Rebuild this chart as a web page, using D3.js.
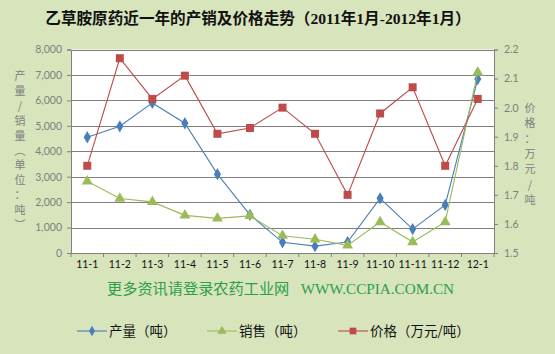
<!DOCTYPE html>
<html>
<head>
  <meta charset="utf-8">
  <title>乙草胺原药产销及价格走势</title>
  <style>
    body { margin: 0; background: #d8e4bc; }
    svg { display: block; }
  </style>
</head>
<body>
  <svg width="555" height="354"></svg>

  <script src="https://d3js.org/d3.v7.min.js"></script>
  <script>
    const months = ["11-1", "11-2", "11-3", "11-4", "11-5", "11-6", "11-7", "11-8", "11-9", "11-10", "11-11", "11-12", "12-1"];
    const output = [4550, 4980, 5900, 5100, 3100, 1500, 420, 270, 430, 2150, 940, 1890, 6840];
    const sales = [2820, 2140, 2010, 1480, 1360, 1460, 680, 540, 300, 1220, 430, 1220, 7100];
    const price = [1.80, 2.17, 2.03, 2.11, 1.91, 1.93, 2.00, 1.91, 1.70, 1.98, 2.07, 1.80, 2.03];
    const leftTicks = [0, 1000, 2000, 3000, 4000, 5000, 6000, 7000, 8000];
    const rightTicks = [1.5, 1.6, 1.7, 1.8, 1.9, 2.0, 2.1, 2.2];

    const width = 555, height = 354;
    const plot = { left: 71, right: 494, top: 49.5, bottom: 253 };
    const gridColor = "#808080";
    const labelColor = "#7f7f7f";
    const tickFont = "Lato, 'Noto Sans', sans-serif";
    const cjkFont = "'Noto Sans CJK SC', sans-serif";

    const svg = d3.select("svg");

    const x = d3.scaleBand().domain(months).range([plot.left, plot.right]);
    const yLeft = d3.scaleLinear().domain([0, 8000]).range([plot.bottom, plot.top]);
    const yRight = d3.scaleLinear().domain([1.5, 2.2]).range([plot.bottom, plot.top]);

    // title
    svg.append("text")
      .attr("x", 258).attr("y", 24)
      .attr("text-anchor", "middle")
      .attr("font-family", "'Liberation Serif', 'Noto Sans CJK SC', serif")
      .attr("font-weight", "bold")
      .attr("font-size", 15.6)
      .attr("fill", "#111")
      .text("乙草胺原药近一年的产销及价格走势（2011年1月-2012年1月）");

    // plot area
    svg.append("rect")
      .attr("x", plot.left).attr("y", plot.top)
      .attr("width", plot.right - plot.left).attr("height", plot.bottom - plot.top)
      .attr("fill", "white");

    // gridlines
    svg.append("g").selectAll("line")
      .data(leftTicks.slice(1))
      .join("line")
      .attr("x1", plot.left).attr("x2", plot.right)
      .attr("y1", d => Math.round(yLeft(d)) + 0.5).attr("y2", d => Math.round(yLeft(d)) + 0.5)
      .attr("stroke", gridColor).attr("stroke-width", 1.2);

    // left axis
    const axL = svg.append("g")
      .attr("transform", `translate(${plot.left},0)`)
      .call(d3.axisLeft(yLeft).tickValues(leftTicks).tickFormat(d3.format(",")).tickSize(4).tickPadding(5));
    axL.select(".domain").attr("stroke", gridColor);
    axL.selectAll("line").attr("stroke", gridColor);
    axL.selectAll("text").attr("fill", labelColor).attr("font-family", tickFont).attr("font-size", 10.5);

    // right axis
    const axR = svg.append("g")
      .attr("transform", `translate(${plot.right},0)`)
      .call(d3.axisRight(yRight).tickValues(rightTicks).tickFormat(d3.format(".1f")).tickSize(4).tickPadding(6));
    axR.select(".domain").attr("stroke", gridColor);
    axR.selectAll("line").attr("stroke", gridColor);
    axR.selectAll("text").attr("fill", labelColor).attr("font-family", tickFont).attr("font-size", 10.5);

    // bottom axis
    const axB = svg.append("g")
      .attr("transform", `translate(0,${plot.bottom})`)
      .call(d3.axisBottom(x).tickSize(0).tickPadding(8));
    axB.select(".domain").attr("stroke", gridColor);
    axB.selectAll("text").attr("fill", "#111").attr("font-family", tickFont).attr("font-size", 10.5);
    svg.append("g").selectAll("line")
      .data(months.concat(["end"]))
      .join("line")
      .attr("x1", (d, i) => plot.left + i * x.step()).attr("x2", (d, i) => plot.left + i * x.step())
      .attr("y1", plot.bottom).attr("y2", plot.bottom + 4)
      .attr("stroke", gridColor);

    // vertical axis titles
    const leftTitle = ["产", "量", "/", "销", "量", "︵", "单", "位", "：", "吨", "︶"];
    svg.append("g").selectAll("text")
      .data(leftTitle)
      .join("text")
      .attr("x", 20).attr("y", (d, i) => 80 + i * 14.9)
      .attr("text-anchor", "middle")
      .attr("font-family", cjkFont).attr("font-size", 11)
      .attr("fill", labelColor)
      .text(d => d);

    const rightTitle = ["价", "格", "：", "万", "元", "/", "吨"];
    svg.append("g").selectAll("text")
      .data(rightTitle)
      .join("text")
      .attr("x", 530).attr("y", (d, i) => 112 + i * 15.3)
      .attr("text-anchor", "middle")
      .attr("font-family", cjkFont).attr("font-size", 11)
      .attr("fill", labelColor)
      .text(d => d);

    // series
    const cx = d => x(d) + x.bandwidth() / 2;
    const series = [
      { name: "产量（吨）", values: output, scale: yLeft, color: "#4a7ebb", marker: d3.symbolDiamond, size: 44 },
      { name: "销售（吨）", values: sales, scale: yLeft, color: "#9bbb59", marker: d3.symbolTriangle, size: 52 },
      { name: "价格（万元/吨）", values: price, scale: yRight, color: "#be4b48", marker: d3.symbolSquare, size: 64 }
    ];

    series.forEach(s => {
      const line = d3.line()
        .x((d, i) => cx(months[i]))
        .y(d => s.scale(d));
      svg.append("path")
        .datum(s.values)
        .attr("d", line)
        .attr("fill", "none")
        .attr("stroke", s.color)
        .attr("stroke-width", 1.1);
      svg.append("g").selectAll("path")
        .data(s.values)
        .join("path")
        .attr("transform", (d, i) => `translate(${cx(months[i])},${s.scale(d)})`)
        .attr("d", d3.symbol().type(s.marker).size(s.size))
        .attr("fill", s.color);
    });

    // watermark
    svg.append("text")
      .attr("x", 107).attr("y", 294)
      .attr("font-family", "'Liberation Serif', 'Noto Sans CJK SC', serif")
      .attr("font-size", 15.2)
      .attr("fill", "#2aa048")
      .text("更多资讯请登录农药工业网\u00a0\u00a0 WWW.CCPIA.COM.CN");

    // legend
    const legendX = [77, 207, 338];
    series.forEach((s, i) => {
      const g = svg.append("g").attr("transform", `translate(${legendX[i]},331)`);
      g.append("line").attr("x1", 0).attr("x2", 30).attr("stroke", s.color).attr("stroke-width", 1.1);
      g.append("path").attr("transform", "translate(15,0)")
        .attr("d", d3.symbol().type(s.marker).size(s.size * 0.7)).attr("fill", s.color);
      g.append("text").attr("x", 32).attr("y", 5)
        .attr("font-family", cjkFont).attr("font-size", 13.5)
        .attr("fill", "#111")
        .text(s.name);
    });
  </script>
</body>
</html>
